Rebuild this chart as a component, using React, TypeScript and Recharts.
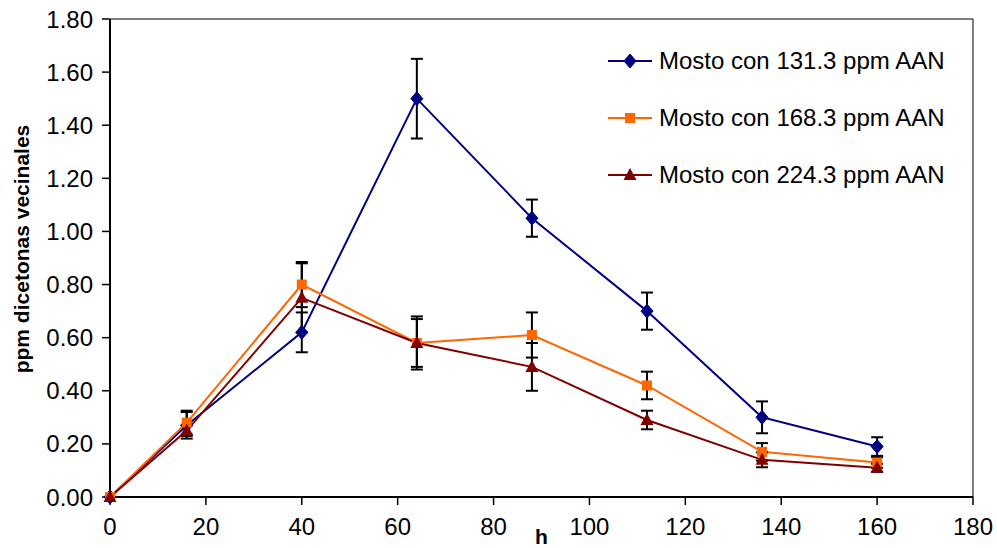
import React from "react";
import {
  LineChart,
  Line,
  XAxis,
  YAxis,
  ErrorBar,
  Legend,
  ReferenceLine,
} from "recharts";

const hours = [0, 16, 40, 64, 88, 112, 136, 160];
const mosto131 = [0, 0.27, 0.62, 1.5, 1.05, 0.7, 0.3, 0.19];
const mosto131Err = [0, 0.05, 0.075, 0.15, 0.07, 0.07, 0.06, 0.035];
const mosto168 = [0, 0.28, 0.8, 0.58, 0.61, 0.42, 0.17, 0.13];
const mosto168Err = [0, 0.045, 0.085, 0.09, 0.085, 0.052, 0.033, 0.02];
const mosto224 = [0, 0.25, 0.75, 0.58, 0.49, 0.29, 0.14, 0.11];
const mosto224Err = [0, 0.02, 0.13, 0.1, 0.09, 0.035, 0.028, 0.015];

const xTicks = [0, 20, 40, 60, 80, 100, 120, 140, 160, 180];
const yTicks = [0, 0.2, 0.4, 0.6, 0.8, 1.0, 1.2, 1.4, 1.6, 1.8];

const seriesNames = [
  "Mosto con 131.3 ppm AAN",
  "Mosto con 168.3 ppm AAN",
  "Mosto con 224.3 ppm AAN",
];
const colors = ["#000080", "#FF6600", "#800000"];

const data = hours.map((h, i) => ({
  h,
  a: mosto131[i],
  aErr: mosto131Err[i],
  b: mosto168[i],
  bErr: mosto168Err[i],
  c: mosto224[i],
  cErr: mosto224Err[i],
}));

const FONT = "'Liberation Sans', Arial, sans-serif";

const markerShape = (kind: number, cx: number, cy: number, color: string) => {
  if (kind === 0) {
    return (
      <polygon
        points={`${cx},${cy - 7} ${cx + 6},${cy} ${cx},${cy + 7} ${cx - 6},${cy}`}
        fill={color}
        stroke={color}
        strokeWidth={1}
      />
    );
  }
  if (kind === 1) {
    return <rect x={cx - 5} y={cy - 5} width={10} height={10} fill={color} />;
  }
  return (
    <polygon
      points={`${cx},${cy - 7} ${cx + 6.5},${cy + 5} ${cx - 6.5},${cy + 5}`}
      fill={color}
    />
  );
};

const makeDot = (kind: number) => (props: any) => {
  const { cx, cy, index } = props;
  if (cx == null || cy == null) return <g key={`d${kind}-${index}`} />;
  return <g key={`d${kind}-${index}`}>{markerShape(kind, cx, cy, colors[kind])}</g>;
};

const renderLegend = () => (
  <div style={{ fontFamily: FONT, fontSize: 24, color: "#000" }}>
    {seriesNames.map((name, i) => (
      <div
        key={name}
        style={{ display: "flex", alignItems: "center", height: 57, whiteSpace: "nowrap" }}
      >
        <svg width={44} height={20} style={{ display: "block" }}>
          <line x1={0} y1={10} x2={44} y2={10} stroke={colors[i]} strokeWidth={2} />
          {markerShape(i, 22, 10, colors[i])}
        </svg>
        <span style={{ marginLeft: 7 }}>{name}</span>
      </div>
    ))}
  </div>
);

const YLabel = (props: any) => {
  const vb = props.viewBox || { x: 0, y: 0, width: 0, height: 0 };
  const x = vb.x + 21;
  const y = vb.y + vb.height / 2 - 9;
  return (
    <text
      x={x}
      y={y}
      transform={`rotate(-90, ${x}, ${y})`}
      textAnchor="middle"
      dominantBaseline="central"
      style={{ fontFamily: FONT, fontSize: 21, fontWeight: "bold", fill: "#000" }}
    >
      ppm dicetonas vecinales
    </text>
  );
};

const XLabel = (props: any) => {
  const vb = props.viewBox || { x: 0, y: 0, width: 0, height: 0 };
  const x = vb.x + vb.width / 2;
  const y = vb.y + vb.height - 4;
  return (
    <text
      x={x}
      y={y}
      textAnchor="middle"
      style={{ fontFamily: FONT, fontSize: 21, fontWeight: "bold", fill: "#000" }}
    >
      h
    </text>
  );
};

export default function App() {
  const tickStyle = { fill: "#000", fontSize: 24, fontFamily: FONT };
  return (
    <div style={{ position: "absolute", left: 0, top: 0, background: "#fff" }}>
      <LineChart
        width={997}
        height={548}
        data={data}
        margin={{ top: 19, right: 24, left: 0, bottom: 0 }}
      >
        <XAxis
          dataKey="h"
          type="number"
          domain={[0, 180]}
          ticks={xTicks}
          interval={0}
          height={51}
          tickSize={8}
          tickMargin={13}
          axisLine={{ stroke: "#000", strokeWidth: 2 }}
          tickLine={{ stroke: "#000", strokeWidth: 1.5 }}
          tick={tickStyle}
          label={{ content: XLabel }}
        />
        <YAxis
          type="number"
          domain={[0, 1.8]}
          ticks={yTicks}
          interval={0}
          width={110}
          tickSize={8}
          tickMargin={9}
          tickFormatter={(v: number) => v.toFixed(2)}
          axisLine={{ stroke: "#000", strokeWidth: 2 }}
          tickLine={{ stroke: "#000", strokeWidth: 1.5 }}
          tick={tickStyle}
          label={{ content: YLabel }}
        />
        <ReferenceLine y={1.8} stroke="#000" strokeWidth={1} />
        <ReferenceLine x={180} stroke="#000" strokeWidth={1} />
        <Legend
          layout="vertical"
          align="center"
          verticalAlign="middle"
          content={renderLegend}
          wrapperStyle={{ left: 608, top: 32, width: 360, height: "auto" }}
        />
        <Line
          dataKey="a"
          name={seriesNames[0]}
          stroke={colors[0]}
          strokeWidth={2}
          dot={makeDot(0)}
          activeDot={false}
          isAnimationActive={false}
        >
          <ErrorBar dataKey="aErr" width={6} strokeWidth={2} stroke="#000" direction="y" />
        </Line>
        <Line
          dataKey="b"
          name={seriesNames[1]}
          stroke={colors[1]}
          strokeWidth={2}
          dot={makeDot(1)}
          activeDot={false}
          isAnimationActive={false}
        >
          <ErrorBar dataKey="bErr" width={6} strokeWidth={2} stroke="#000" direction="y" />
        </Line>
        <Line
          dataKey="c"
          name={seriesNames[2]}
          stroke={colors[2]}
          strokeWidth={2}
          dot={makeDot(2)}
          activeDot={false}
          isAnimationActive={false}
        >
          <ErrorBar dataKey="cErr" width={6} strokeWidth={2} stroke="#000" direction="y" />
        </Line>
      </LineChart>
    </div>
  );
}
